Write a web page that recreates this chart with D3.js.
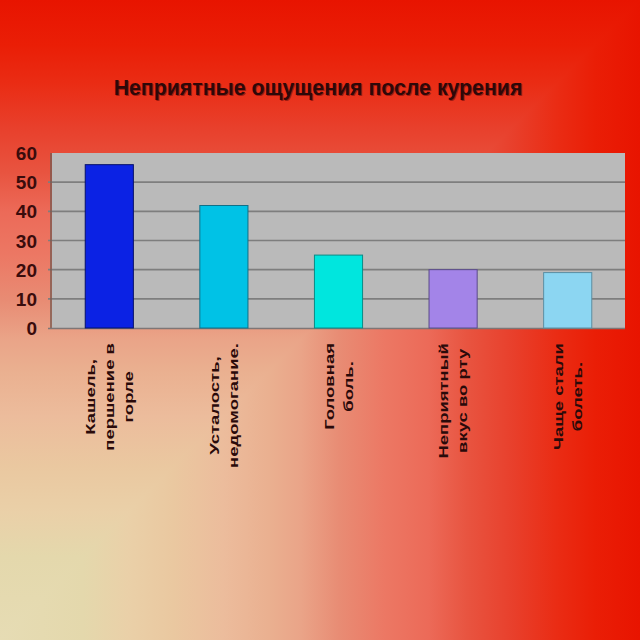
<!DOCTYPE html>
<html>
<head>
<meta charset="utf-8">
<script src="https://cdn.jsdelivr.net/npm/d3@7"></script>
<style>
  html, body { margin: 0; padding: 0; background: #e81800; }
  svg { display: block; }
</style>
</head>
<body>
<svg id="chart" width="640" height="640"></svg>
<script>
// ---- data ----
const title = "Неприятные ощущения после курения";
const categories = [
  ["Кашель,", "першение в", "горле"],
  ["Усталость,", "недомогание."],
  ["Головная", "боль."],
  ["Неприятный", "вкус во рту"],
  ["Чаще стали", "болеть."]
];
const values = [56, 42, 25, 20, 19];
const barColors = ["#0b22e4", "#00c2e6", "#00e6de", "#a384e8", "#8cd6f2"];
const barStrokes = ["#06106a", "#107088", "#0a8a86", "#5a4a8a", "#5c8ea2"];
const yTicks = [0, 10, 20, 30, 40, 50, 60];

// ---- layout ----
const W = 640, H = 640;
const plot = { left: 52, right: 625, top: 153, bottom: 328 };
const LABEL_STRETCH = 1.48;
const LABEL_TOP = 343;
const LINE_GAP = 19;

// "from corner" background gradient (bottom-left beige -> red)
const bgStops = [[0, "#e6dcb4"], [0.13, "#e4d8ac"], [0.2, "#ead0a8"], [0.27, "#eac8a0"],
  [0.35, "#ecbc9c"], [0.42, "#eab090"], [0.47, "#eaa488"], [0.53, "#e88c74"],
  [0.6, "#ec7864"], [0.67, "#ec6a58"], [0.73, "#e85440"], [0.8, "#e8402c"],
  [0.87, "#ea2c14"], [0.93, "#ea1e06"], [1, "#e81400"]];

const svg = d3.select("#chart");
const defs = svg.append("defs");
const gx = defs.append("linearGradient").attr("id", "bgx")
  .attr("gradientUnits", "userSpaceOnUse")
  .attr("x1", 0).attr("y1", 0).attr("x2", W).attr("y2", 0);
const gy = defs.append("linearGradient").attr("id", "bgy")
  .attr("gradientUnits", "userSpaceOnUse")
  .attr("x1", 0).attr("y1", H).attr("x2", 0).attr("y2", 0);
bgStops.forEach(([o, c]) => {
  gx.append("stop").attr("offset", o).attr("stop-color", c);
  gy.append("stop").attr("offset", o).attr("stop-color", c);
});

svg.append("rect").attr("width", W).attr("height", H).attr("fill", "url(#bgx)");
svg.append("path").attr("d", `M0,0L${W},0L0,${H}Z`).attr("fill", "url(#bgy)");

const x = d3.scaleBand()
  .domain(d3.range(categories.length))
  .range([plot.left, plot.right])
  .paddingInner(0.58).paddingOuter(0.29);
const y = d3.scaleLinear().domain([0, 60]).range([plot.bottom, plot.top]);

// plot area
svg.append("rect")
  .attr("x", plot.left).attr("y", plot.top)
  .attr("width", plot.right - plot.left).attr("height", plot.bottom - plot.top)
  .attr("fill", "#bababa");

// gridlines
svg.append("g").selectAll("line")
  .data(yTicks.filter(t => t > 0 && t < 60))
  .join("line")
  .attr("x1", plot.left - 4).attr("x2", plot.right)
  .attr("y1", d => y(d)).attr("y2", d => y(d))
  .attr("stroke", "#7e7e7e").attr("stroke-width", 1.6);

// axes lines
svg.append("line").attr("x1", plot.left - 1).attr("x2", plot.left - 1)
  .attr("y1", plot.top).attr("y2", plot.bottom + 1)
  .attr("stroke", "#7a5a50").attr("stroke-width", 1.5);
svg.append("line").attr("x1", plot.left - 4).attr("x2", plot.right)
  .attr("y1", plot.bottom + 0.5).attr("y2", plot.bottom + 0.5)
  .attr("stroke", "#7e7676").attr("stroke-width", 1.6);

// bars
svg.append("g").selectAll("rect")
  .data(values)
  .join("rect")
  .attr("x", (d, i) => x(i))
  .attr("width", x.bandwidth())
  .attr("y", d => y(d))
  .attr("height", d => y(0) - y(d))
  .attr("fill", (d, i) => barColors[i])
  .attr("stroke", (d, i) => barStrokes[i])
  .attr("stroke-width", 1);

// y tick labels
svg.append("g").selectAll("text")
  .data(yTicks)
  .join("text")
  .attr("x", 37)
  .attr("y", d => y(d) + 7)
  .attr("text-anchor", "end")
  .attr("font-family", "Liberation Sans, Arial, sans-serif")
  .attr("font-weight", "bold")
  .attr("font-size", 19)
  .attr("fill", "#3a0c0c")
  .text(d => d);

// title
const tg = svg.append("g");
tg.append("text")
  .attr("x", 319).attr("y", 96)
  .attr("text-anchor", "middle")
  .attr("font-family", "Liberation Sans, Arial, sans-serif")
  .attr("font-weight", "bold").attr("font-size", 21.3)
  .attr("fill", "#a01a10")
  .text(title);
tg.append("text")
  .attr("x", 318).attr("y", 95)
  .attr("text-anchor", "middle")
  .attr("font-family", "Liberation Sans, Arial, sans-serif")
  .attr("font-weight", "bold").attr("font-size", 21.3)
  .attr("fill", "#2e0808")
  .text(title);

// x category labels (rotated, multi-line, centered)
const lg = svg.append("g");
categories.forEach((lines, i) => {
  const cx = x(i) + x.bandwidth() / 2;
  const g = lg.append("g");
  const texts = lines.map((ln, k) => g.append("text")
    .attr("text-anchor", "middle")
    .attr("font-family", "Liberation Sans, Arial, sans-serif")
    .attr("font-weight", "bold")
    .attr("font-size", 12.5)
    .attr("fill", "#2a0a0a")
    .text(ln));
  const maxLen = d3.max(texts, t => t.node().getComputedTextLength()) * LABEL_STRETCH;
  const cy = LABEL_TOP + maxLen / 2;
  texts.forEach((t, k) => {
    const lx = cx + (k - (lines.length - 1) / 2) * LINE_GAP + 4.5;
    t.attr("transform", `translate(${lx},${cy}) rotate(-90) scale(${LABEL_STRETCH},1)`);
  });
});
</script>
</body>
</html>
